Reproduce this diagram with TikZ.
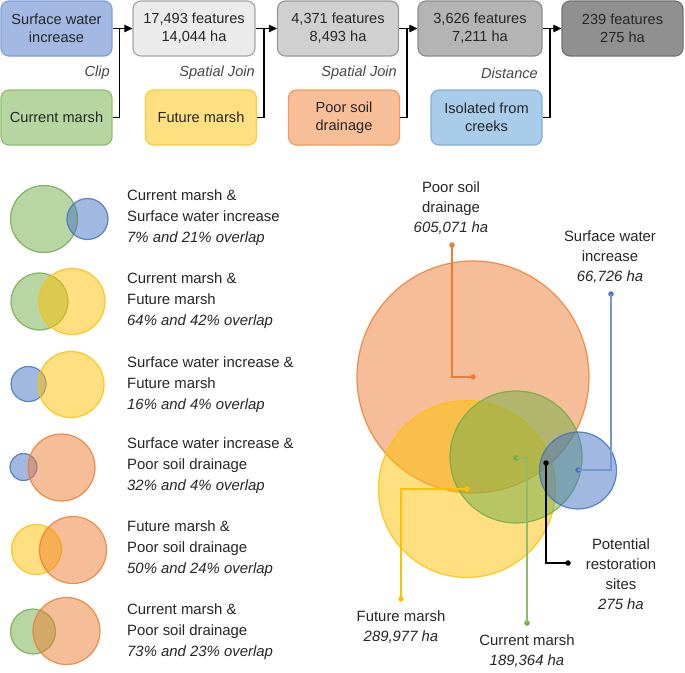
\documentclass[tikz,border=0pt]{standalone}
\usepackage{fontspec}
\setmainfont{Liberation Sans}
\usetikzlibrary{arrows.meta}
\definecolor{cblue}{HTML}{4472C4}
\definecolor{cgreen}{HTML}{70AD47}
\definecolor{cyellow}{HTML}{FFC000}
\definecolor{corange}{HTML}{ED7D31}
\definecolor{txt}{HTML}{262626}
\definecolor{swiF}{HTML}{A3B8E3}\definecolor{swiD}{HTML}{7F9FD9}
\definecolor{g1F}{HTML}{EBEBEB}\definecolor{g1D}{HTML}{A6A6A6}
\definecolor{g2F}{HTML}{D0D0D0}\definecolor{g2D}{HTML}{9A9A9A}
\definecolor{g3F}{HTML}{B4B4B4}\definecolor{g3D}{HTML}{8C8C8C}
\definecolor{g4F}{HTML}{909090}\definecolor{g4D}{HTML}{737373}
\definecolor{cmF}{HTML}{B5D6A0}\definecolor{cmD}{HTML}{8CC16A}
\definecolor{fmF}{HTML}{FFE080}\definecolor{fmD}{HTML}{FFCC33}
\definecolor{psF}{HTML}{F7BE98}\definecolor{psD}{HTML}{F09A5E}
\definecolor{isF}{HTML}{A9CCEB}\definecolor{isD}{HTML}{7DAEDE}
\tikzset{
  fbox/.style={draw, rounded corners=8pt, line width=1.2pt, minimum height=55pt, align=center,
    inner sep=0pt, text=txt, font=\fontsize{14.6}{18}\selectfont},
  oplabel/.style={anchor=east, text=txt!85, font=\fontsize{14.6}{18}\selectfont\itshape, inner sep=0pt},
  conn/.style={line width=1.1pt, black},
  venn/.style={line width=1.2pt, fill opacity=0.5, draw opacity=0.85},
  pairtxt/.style={anchor=north west, align=left, text=txt, inner sep=0pt,
    font=\fontsize{14.9}{21}\selectfont},
  bigtxt/.style={align=center, text=txt, inner sep=0pt, font=\fontsize{14.9}{20}\selectfont},
  leader/.style={line width=1.1pt},
  dot/.style={circle, inner sep=0pt, minimum size=5.5pt, fill=#1},
}
\begin{document}
\begin{tikzpicture}[x=1pt,y=-1pt]
\useasboundingbox (0,0) rectangle (685,672);

% ---------- flow chart ----------
\node[fbox, minimum width=111pt, fill=swiF, draw=swiD] (swi) at (56.5,28.5) {Surface water\\increase};
\node[fbox, minimum width=122pt, fill=g1F, draw=g1D] (f1) at (194,28.5) {17,493 features\\14,044 ha};
\node[fbox, minimum width=121pt, fill=g2F, draw=g2D] (f2) at (338,28.5) {4,371 features\\8,493 ha};
\node[fbox, minimum width=124pt, fill=g3F, draw=g3D] (f3) at (480,28.5) {3,626 features\\7,211 ha};
\node[fbox, minimum width=121pt, fill=g4F, draw=g4D] (f4) at (622.5,28.5) {239 features\\275 ha};

\node[fbox, minimum width=111pt, fill=cmF, draw=cmD] (cm) at (56.5,117.5) {Current marsh};
\node[fbox, minimum width=111pt, fill=fmF, draw=fmD] (fm) at (201,117.5) {Future marsh};
\node[fbox, minimum width=111pt, fill=psF, draw=psD] (psd) at (344,117.5) {Poor soil\\drainage};
\node[fbox, minimum width=111pt, fill=isF, draw=isD] (iso) at (486.5,117.5) {Isolated from\\creeks};

\coordinate (j1) at (119.5,28.5);
\coordinate (j2) at (264,28.5);
\coordinate (j3) at (407,28.5);
\coordinate (j4) at (550,28.5);

\draw[conn, -{Triangle[length=8pt,width=7.5pt]}] (swi.east) -- (f1.west);
\draw[conn, -{Triangle[length=8pt,width=7.5pt]}] (f1.east) -- (f2.west);
\draw[conn, -{Triangle[length=8pt,width=7.5pt]}] (f2.east) -- (f3.west);
\draw[conn, -{Triangle[length=8pt,width=7.5pt]}] (f3.east) -- (f4.west);
\draw[conn] (cm.east) -| (j1);
\draw[conn] (fm.east) -| (j2);
\draw[conn] (psd.east) -| (j3);
\draw[conn] (iso.east) -| (j4);

\node[oplabel] (l1) at (110,73) {Clip};
\node[oplabel] (l2) at (255,73) {Spatial Join};
\node[oplabel] (l3) at (397,73) {Spatial Join};
\node[oplabel] (l4) at (538,73) {Distance};

% ---------- pairwise venns ----------
\draw[venn, draw=cgreen, fill=cgreen] (44,219) circle (33.5);
\draw[venn, draw=cblue, fill=cblue] (87.5,219) circle (20.5);
\node[pairtxt] (t1) at (127,189) {Current marsh \&\\Surface water increase\\\textit{7\% and 21\% overlap}};

\draw[venn, draw=cgreen, fill=cgreen] (39.5,301.5) circle (28.5);
\draw[venn, draw=cyellow, fill=cyellow] (72,301.5) circle (33);
\node[pairtxt] (t2) at (127,272) {Current marsh \&\\Future marsh\\\textit{64\% and 42\% overlap}};

\draw[venn, draw=cblue, fill=cblue] (28.5,384) circle (17.5);
\draw[venn, draw=cyellow, fill=cyellow] (71,384.5) circle (33);
\node[pairtxt] (t3) at (127,356) {Surface water increase \&\\Future marsh\\\textit{16\% and 4\% overlap}};

\draw[venn, draw=cblue, fill=cblue] (23.5,467) circle (13.5);
\draw[venn, draw=corange, fill=corange] (61.5,467.5) circle (33.5);
\node[pairtxt] (t4) at (127,437) {Surface water increase \&\\Poor soil drainage\\\textit{32\% and 4\% overlap}};

\draw[venn, draw=cyellow, fill=cyellow] (36.5,549.5) circle (25);
\draw[venn, draw=corange, fill=corange] (73,550) circle (33.5);
\node[pairtxt] (t5) at (127,520) {Future marsh \&\\Poor soil drainage\\\textit{50\% and 24\% overlap}};

\draw[venn, draw=cgreen, fill=cgreen] (33,631.5) circle (22.5);
\draw[venn, draw=corange, fill=corange] (66.5,631) circle (33.5);
\node[pairtxt] (t6) at (127,603) {Current marsh \&\\Poor soil drainage\\\textit{73\% and 23\% overlap}};

% ---------- big venn ----------
\draw[venn, draw=corange, fill=corange] (473,377) circle (116);
\draw[venn, draw=cyellow, fill=cyellow] (467,489) circle (88.5);
\draw[venn, draw=cgreen, fill=cgreen] (516,457) circle (66);
\draw[venn, draw=cblue, fill=cblue] (578,470.5) circle (38.5);

% leader dots
\node[dot=corange] (po) at (473,377) {};
\node[dot=corange] (pe) at (452,245) {};
\node[dot=cblue] (bo) at (578,470) {};
\node[dot=cblue] (be) at (611,294) {};
\node[dot=cyellow] (yo) at (467,489) {};
\node[dot=cyellow] (ye) at (401,599) {};
\node[dot=cgreen] (go) at (516,458) {};
\node[dot=cgreen] (ge) at (527,623) {};
\node[dot=black] (ko) at (546,463) {};
\node[dot=black] (ke) at (568,563) {};

\draw[leader, corange] (po.center) -| (pe.center);
\draw[leader, cblue!75] (bo.center) -| (be.center);
\draw[leader, cyellow] (yo.center) -| (ye.center);
\draw[leader, cgreen!80] (go.center) -| (ge.center);
\draw[leader, black] (ko.center) |- (ke.center);

\node[bigtxt, anchor=south] (lp) at (451,235) {Poor soil\\drainage\\\textit{605,071 ha}};
\node[bigtxt, anchor=south] (lb) at (610,284) {Surface water\\increase\\\textit{66,726 ha}};
\node[bigtxt, anchor=north] (ly) at (401,610) {Future marsh\\\textit{289,977 ha}};
\node[bigtxt, anchor=north] (lg) at (527,634) {Current marsh\\\textit{189,364 ha}};
\node[bigtxt] (lk) at (621,574) {Potential\\restoration\\sites\\\textit{275 ha}};
\end{tikzpicture}
\end{document}
